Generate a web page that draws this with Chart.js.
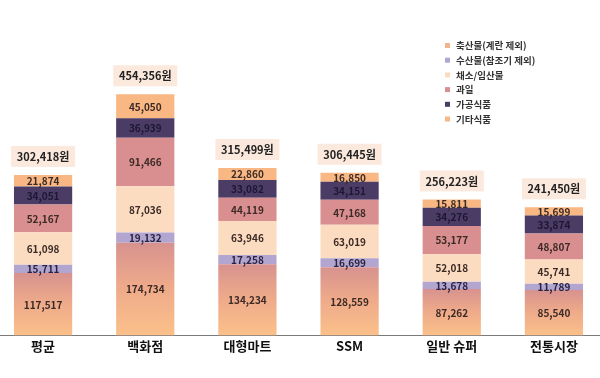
<!DOCTYPE html>
<html><head><meta charset="utf-8">
<script src="https://cdn.jsdelivr.net/npm/chart.js@4/dist/chart.umd.min.js"></script>
<style>
html,body{margin:0;padding:0;background:#fff;overflow:hidden;width:600px;height:378px;}
#wrap{position:absolute;left:-8px;top:0;width:613px;height:378px;}
</style></head>
<body><div id="wrap"><canvas id="c"></canvas></div>
<script>
const categories = ['평균', '백화점', '대형마트', 'SSM', '일반 슈퍼', '전통시장'];
const seriesNames = ['축산물(계란 제외)', '수산물(참조기 제외)', '채소/임산물', '과일', '가공식품', '기타식품'];
const livestock = [117517, 174734, 134234, 128559, 87262, 85540];
const seafood   = [15711, 19132, 17258, 16699, 13678, 11789];
const vegetables= [61098, 87036, 63946, 63019, 52018, 45741];
const fruit     = [52167, 91466, 44119, 47168, 53177, 48807];
const processed = [34051, 36939, 33082, 34151, 34276, 33874];
const others    = [21874, 45050, 22860, 16850, 15811, 15699];
const totals    = [302418, 454356, 315499, 306445, 256223, 241450];

const colors = ['#f2b48c', '#b2a6d0', '#fcdcc1', '#d98f8f', '#4b3c66', '#f8b783'];
const textColors = ['#3b2a26', '#2b2340', '#3b2a26', '#3b2a26', '#1d1733', '#3b2a26'];

function livestockGradient(ctx) {
  const chart = ctx.chart;
  const ys = chart.scales && chart.scales.y;
  if (!chart.chartArea || !ys || ctx.dataIndex === undefined) return colors[0];
  const v = livestock[ctx.dataIndex];
  const y0 = ys.getPixelForValue(0), y1 = ys.getPixelForValue(v);
  if (!isFinite(y0) || !isFinite(y1)) return colors[0];
  const g = chart.ctx.createLinearGradient(0, y1, 0, y0);
  g.addColorStop(0, '#d7928f');
  g.addColorStop(0.45, '#eda98a');
  g.addColorStop(1, '#fbc08a');
  return g;
}

const seriesData = [livestock, seafood, vegetables, fruit, processed, others];
const fmt = n => n.toLocaleString('en-US');

const labelPlugin = {
  id: 'labels',
  afterDatasetsDraw(chart) {
    const c = chart.ctx;
    c.save();
    c.textAlign = 'center';
    c.textBaseline = 'middle';
    chart.data.datasets.forEach((ds, di) => {
      const meta = chart.getDatasetMeta(di);
      c.font = 'bold 10px "Noto Sans CJK KR", "Noto Sans", sans-serif';
      c.fillStyle = textColors[di];
      meta.data.forEach((el, i) => {
        const cy = (el.y + el.base) / 2;
        c.fillText(fmt(ds.data[i]), el.x, cy + 0.5);
      });
    });
    // totals
    const top = chart.getDatasetMeta(chart.data.datasets.length - 1);
    top.data.forEach((el, i) => {
      const w = 64, h = 21;
      const bx = el.x - w / 2, by = el.y - 8 - h;
      c.fillStyle = '#fce9dd';
      c.fillRect(bx, by, w, h);
      c.fillStyle = '#222';
      c.font = 'bold 11px "Noto Sans CJK KR", "Noto Sans", sans-serif';
      c.fillText(fmt(totals[i]) + '원', el.x, by + h / 2 + 0.5);
    });
    // legend
    const lx = 455, ly = 45, step = 14.7;
    c.textAlign = 'left';
    c.font = 'bold 9.5px "Noto Sans CJK KR", "Noto Sans", sans-serif';
    chart.data.datasets.forEach((ds, di) => {
      const y = ly + di * step;
      c.fillStyle = colors[di];
      c.fillRect(lx - 2, y - 2, 5, 5);
      c.fillStyle = '#333';
      c.fillText(ds.label, lx + 9, y + 0.5);
    });
    c.restore();
  }
};

new Chart(document.getElementById('c'), {
  type: 'bar',
  data: {
    labels: categories,
    datasets: seriesData.map((d, i) => ({
      label: seriesNames[i],
      data: d,
      backgroundColor: i === 0 ? livestockGradient : colors[i],
      borderWidth: 0,
      barPercentage: 0.57,
      categoryPercentage: 1.0
    }))
  },
  options: {
    responsive: true,
    maintainAspectRatio: false,
    animation: false,
    layout: { padding: { top: 17, bottom: 21, left: 0, right: 0 } },
    plugins: { legend: { display: false }, tooltip: { enabled: false } },
    scales: {
      x: {
        stacked: true,
        grid: { display: false, drawTicks: false },
        border: { display: true, color: '#7a7a7a', width: 1 },
        ticks: { color: '#111', padding: 3, font: { family: '"Noto Sans CJK KR", sans-serif', size: 13, weight: 'bold' } }
      },
      y: {
        stacked: true,
        display: false,
        min: 0,
        max: 600000
      }
    }
  },
  plugins: [labelPlugin]
});
</script>
</body></html>
